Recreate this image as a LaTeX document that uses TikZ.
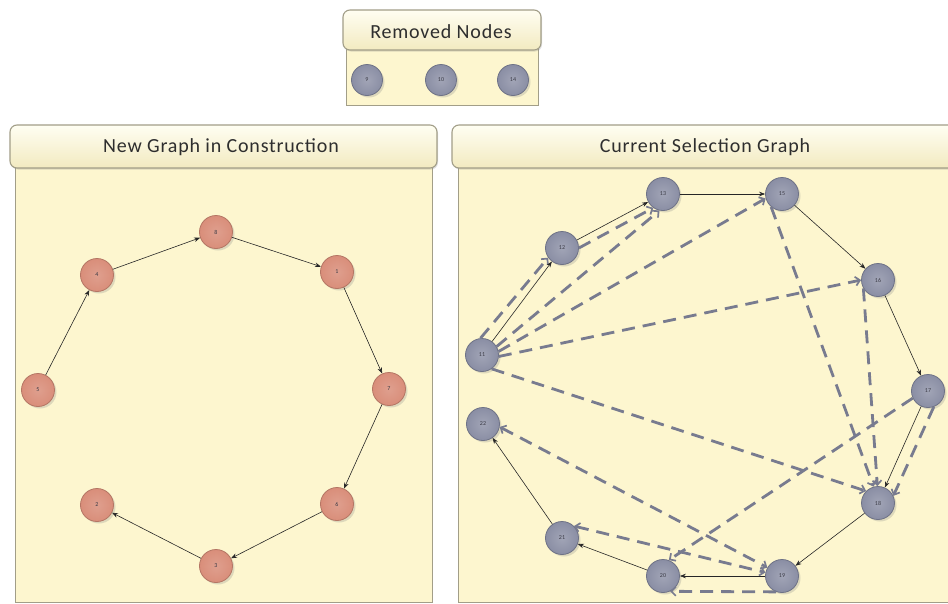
\documentclass[tikz,border=0pt]{standalone}
\usepackage{fontspec}
\setmainfont{Carlito}
\newfontfamily\titlefont[LetterSpace=4]{Carlito}
\usetikzlibrary{arrows.meta,shadows}
\definecolor{cream}{HTML}{FDF6CF}
\definecolor{headtop}{HTML}{FFFEF2}
\definecolor{headbot}{HTML}{F2EAC0}
\definecolor{paneledge}{HTML}{A29E88}
\definecolor{greyfill}{HTML}{8A8EA4}
\definecolor{greyedge}{HTML}{6E7286}
\definecolor{redfill}{HTML}{D98E7A}
\definecolor{rededge}{HTML}{B47664}
\definecolor{dashc}{HTML}{787B8F}
\definecolor{labelc}{HTML}{3A3A45}
\tikzset{
  panelbody/.style={fill=cream, draw=paneledge, line width=0.8pt},
  panelhead/.style={top color=headtop, bottom color=headbot, draw=paneledge, line width=1.1pt, rounded corners=7pt,
    drop shadow={shadow xshift=1pt, shadow yshift=-1.5pt, opacity=0.25}},
  paneltitle/.style={font=\titlefont\fontsize{20}{24}\selectfont, text=black!82},
  basenode/.style={circle, minimum size=33pt, inner sep=0pt, line width=0.8pt,
    font=\fontsize{6}{7}\selectfont, text=labelc,
    drop shadow={shadow xshift=2pt, shadow yshift=-2pt, opacity=0.25}},
  gnode/.style={basenode, draw=greyedge, inner color=greyfill!80!white, outer color=greyfill},
  rnode/.style={basenode, draw=rededge, inner color=redfill!85!white, outer color=redfill},
  solidarr/.style={draw=black!85, line width=0.6pt, -{Stealth[length=6pt,width=4.5pt]}},
  dasharr/.style={draw=dashc, line width=2.8pt, dash pattern=on 13pt off 8pt,
    -{Straight Barb[length=4.5pt,width=9pt,line width=1.7pt]}},
  dashboth/.style={dasharr, {Straight Barb[length=4.5pt,width=9pt,line width=1.7pt]}-{Straight Barb[length=4.5pt,width=9pt,line width=1.7pt]}}
}
\begin{document}
\begin{tikzpicture}[x=1pt,y=-1pt]
\useasboundingbox (0,0) rectangle (948,603);
\fill[white] (0,0) rectangle (948,603);

% Removed Nodes panel
\draw[panelbody] (346,45) rectangle (538,105);
\draw[panelhead] (343,10) rectangle (541,50);
\node[paneltitle] (trem) at (441,32) {Removed Nodes};

% Left panel
\draw[panelbody] (15,160) rectangle (432,602);
\draw[panelhead] (10,125) rectangle (437,168);
\node[paneltitle] (tleft) at (221,147) {New Graph in Construction};

% Right panel
\draw[panelbody] (458,160) rectangle (955,602);
\draw[panelhead] (452,125) rectangle (960,168);
\node[paneltitle] (tright) at (705,147) {Current Selection Graph};

% removed nodes
\node[gnode, minimum size=31pt] (n9) at (367,80) {9};
\node[gnode, minimum size=31pt] (n10) at (441,80) {10};
\node[gnode, minimum size=31pt] (n14) at (513,80) {14};

% left graph
\node[rnode] (n8) at (216,232) {8};
\node[rnode] (n4) at (97,275) {4};
\node[rnode] (n1) at (337,272) {1};
\node[rnode] (n5) at (38,390) {5};
\node[rnode] (n7) at (389,389) {7};
\node[rnode] (n6) at (337,504) {6};
\node[rnode] (n2) at (97,505) {2};
\node[rnode] (n3) at (216,566) {3};

\draw[solidarr] (n5) -- (n4);
\draw[solidarr] (n4) -- (n8);
\draw[solidarr] (n8) -- (n1);
\draw[solidarr] (n1) -- (n7);
\draw[solidarr] (n7) -- (n6);
\draw[solidarr] (n6) -- (n3);
\draw[solidarr] (n3) -- (n2);

% right graph
\node[gnode] (n13) at (663,194) {13};
\node[gnode] (n15) at (782,194) {15};
\node[gnode] (n12) at (562,248) {12};
\node[gnode] (n16) at (878,280) {16};
\node[gnode] (n11) at (482,355) {11};
\node[gnode] (n17) at (928,391) {17};
\node[gnode] (n22) at (483,424) {22};
\node[gnode] (n18) at (878,503) {18};
\node[gnode] (n21) at (562,538) {21};
\node[gnode] (n20) at (663,576) {20};
\node[gnode] (n19) at (782,576) {19};

% dashed connectors
\draw[dasharr] (n11.95) -- (n12.215);
\draw[dasharr] (n12.0) -- (n13.235);
\draw[dasharr] (n11.30) -- (n13.258);
\draw[dasharr] (n11.12) -- (n15.195);
\draw[dasharr] (n11.355) -- (n16.180);
\draw[dasharr] (n11.305) -- (n18.135);
\draw[dasharr] (n15.230) -- (n18.105);
\draw[dasharr] (n16.210) -- (n18.92);
\draw[dasharr] (n17.290) -- (n18.25);
\draw[dasharr] (n17.205) -- (n20.70);
\draw[dashboth] (n22.350) -- (n19.150);
\draw[dashboth] (n21.45) -- (n19.168);
\draw[dasharr] (n19.250) -- (n20.295);

% solid connectors
\draw[solidarr] (n11) -- (n12);
\draw[solidarr] (n12) -- (n13);
\draw[solidarr] (n13) -- (n15);
\draw[solidarr] (n15) -- (n16);
\draw[solidarr] (n16) -- (n17);
\draw[solidarr] (n17) -- (n18);
\draw[solidarr] (n18) -- (n19);
\draw[solidarr] (n19) -- (n20);
\draw[solidarr] (n20) -- (n21);
\draw[solidarr] (n21) -- (n22);
\end{tikzpicture}
\end{document}
